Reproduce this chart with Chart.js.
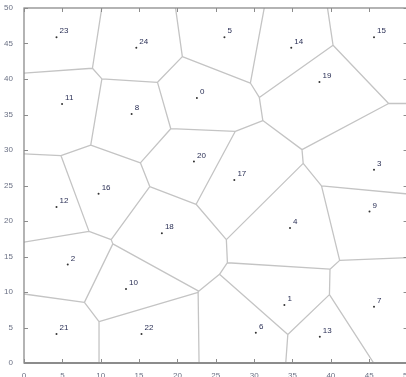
<!DOCTYPE html>
<html>
<head>
<meta charset="utf-8">
<script src="https://cdn.jsdelivr.net/npm/chart.js@4"></script>
<style>
  html, body { margin: 0; padding: 0; background: #fff; overflow: hidden; }
  #wrap { width: 406px; height: 377px; overflow: hidden; }
</style>
</head>
<body>
<div id="wrap"><canvas id="c" width="412" height="377"></canvas></div>
<script>
// Site coordinates (site k is at siteX[k], siteY[k])
const siteX = [22.54, 33.94, 5.70, 45.63, 34.68, 26.13, 30.22, 45.63, 14.03, 45.04,
               13.30, 4.96, 4.24, 38.56, 34.84, 45.63, 9.72, 27.42, 17.97, 38.51,
               22.15, 4.24, 15.32, 4.24, 14.64];
const siteY = [37.33, 8.18, 13.86, 27.22, 19.00, 45.88, 4.27, 7.94, 35.08, 21.34,
               10.44, 36.49, 21.96, 3.71, 44.39, 45.88, 23.84, 25.77, 18.29, 39.59,
               28.39, 4.09, 4.09, 45.88, 44.39];
const siteLabels = siteX.map((_, i) => String(i));
const xTicks = [0, 5, 10, 15, 20, 25, 30, 35, 40, 45, 50];
const yTicks = [0, 5, 10, 15, 20, 25, 30, 35, 40, 45, 50];

// Voronoi cells by half-plane clipping of a large box
function clip(poly, ax, ay, bx, by) {
  // keep points closer to a than to b
  const mx = (ax + bx) / 2, my = (ay + by) / 2;
  const nx = bx - ax, ny = by - ay;
  const f = p => (p[0] - mx) * nx + (p[1] - my) * ny;
  const out = [];
  for (let i = 0; i < poly.length; i++) {
    const p = poly[i], q = poly[(i + 1) % poly.length];
    const fp = f(p), fq = f(q);
    if (fp <= 0) out.push(p);
    if ((fp < 0 && fq > 0) || (fp > 0 && fq < 0)) {
      const t = fp / (fp - fq);
      out.push([p[0] + t * (q[0] - p[0]), p[1] + t * (q[1] - p[1])]);
    }
  }
  return out;
}
const edgeData = [];
const seen = new Set();
const key = (a, b) => {
  const s1 = a[0].toFixed(3) + ',' + a[1].toFixed(3);
  const s2 = b[0].toFixed(3) + ',' + b[1].toFixed(3);
  return s1 < s2 ? s1 + '|' + s2 : s2 + '|' + s1;
};
for (let i = 0; i < siteX.length; i++) {
  let poly = [[-40, -40], [90, -40], [90, 90], [-40, 90]];
  for (let j = 0; j < siteX.length; j++) {
    if (i !== j) poly = clip(poly, siteX[i], siteY[i], siteX[j], siteY[j]);
  }
  for (let k = 0; k < poly.length; k++) {
    const a = poly[k], b = poly[(k + 1) % poly.length];
    const kk = key(a, b);
    if (seen.has(kk)) continue;
    seen.add(kk);
    edgeData.push({ x: a[0], y: a[1] }, { x: b[0], y: b[1] }, { x: a[0], y: null });
  }
}

const sites = siteX.map((x, i) => ({ x, y: siteY[i] }));

// Axis box with inward ticks on all four sides, plus site labels
const boxPlugin = {
  id: 'box',
  afterDatasetsDraw(chart) {
    const { ctx, chartArea: a, scales: { x, y } } = chart;
    ctx.save();
    ctx.strokeStyle = '#8c8c8c';
    ctx.lineWidth = 1;
    ctx.beginPath();
    xTicks.forEach(v => {
      const px = Math.round(x.getPixelForValue(v)) + 0.5;
      ctx.moveTo(px, a.bottom); ctx.lineTo(px, a.bottom - 4);
      ctx.moveTo(px, a.top); ctx.lineTo(px, a.top + 4);
    });
    yTicks.forEach(v => {
      const py = Math.round(y.getPixelForValue(v)) + 0.5;
      ctx.moveTo(a.left, py); ctx.lineTo(a.left + 4, py);
      ctx.moveTo(a.right, py); ctx.lineTo(a.right - 4, py);
    });
    ctx.stroke();
    ctx.lineWidth = 1.3;
    ctx.strokeRect(a.left, a.top, a.right - a.left, a.bottom - a.top);
    ctx.lineWidth = 2;
    ctx.beginPath();
    ctx.moveTo(a.left, a.bottom); ctx.lineTo(a.right, a.bottom);
    ctx.stroke();
    ctx.fillStyle = '#2a2f55';
    ctx.font = '8px "Liberation Sans", sans-serif';
    ctx.textAlign = 'left';
    ctx.textBaseline = 'middle';
    sites.forEach((p, i) => {
      ctx.fillText(siteLabels[i], x.getPixelForValue(p.x + 0.4), y.getPixelForValue(p.y + 0.85));
    });
    ctx.restore();
  }
};

new Chart(document.getElementById('c'), {
  type: 'scatter',
  data: {
    datasets: [
      {
        data: edgeData,
        showLine: true,
        spanGaps: false,
        borderColor: '#c4c4c4',
        borderWidth: 1.3,
        pointRadius: 0,
        order: 2
      },
      {
        data: sites,
        pointRadius: 1,
        pointBackgroundColor: '#333',
        pointBorderWidth: 0,
        order: 1
      }
    ]
  },
  plugins: [boxPlugin],
  options: {
    responsive: false,
    animation: false,
    events: [],
    layout: { padding: { top: 8, right: 1, left: 0, bottom: 0 } },
    plugins: { legend: { display: false }, tooltip: { enabled: false } },
    scales: {
      x: {
        type: 'linear', min: 0, max: 50,
        afterBuildTicks: s => { s.ticks = xTicks.map(v => ({ value: v })); },
        afterFit: s => { s.height = 14; },
        grid: { display: false },
        border: { display: false },
        ticks: { color: '#6a7084', font: { family: 'Liberation Sans', size: 8 }, padding: 0, maxRotation: 0, autoSkip: false }
      },
      y: {
        type: 'linear', min: 0, max: 50,
        afterBuildTicks: s => { s.ticks = yTicks.map(v => ({ value: v })); },
        afterFit: s => { s.width = 24; },
        grid: { display: false },
        border: { display: false },
        ticks: { color: '#6a7084', font: { family: 'Liberation Sans', size: 8 }, padding: 3, autoSkip: false }
      }
    }
  }
});
</script>
</body>
</html>
